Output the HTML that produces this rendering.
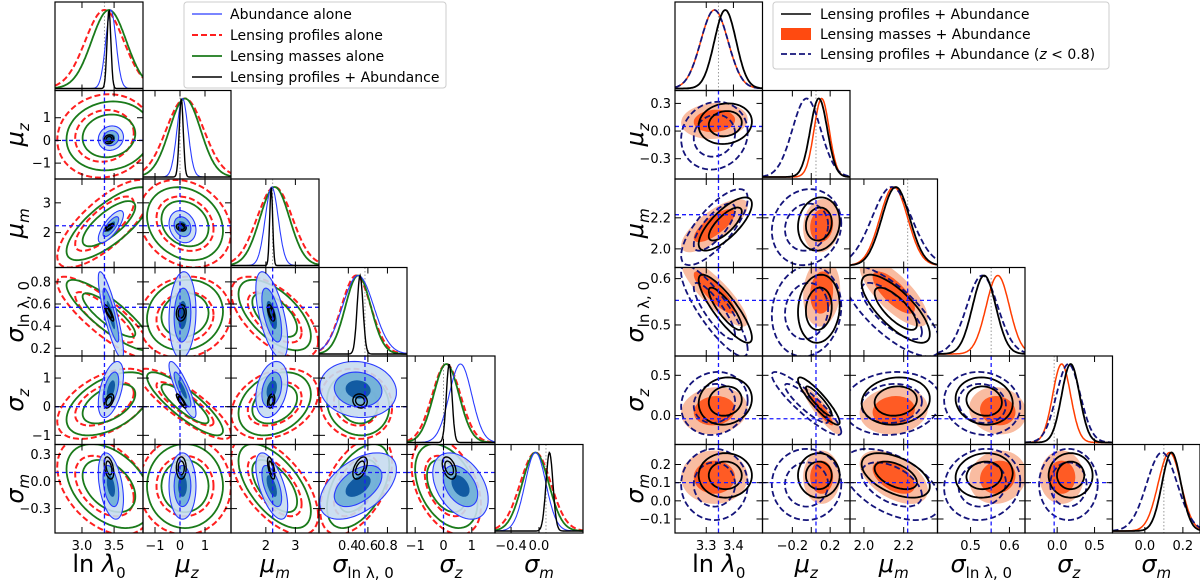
<!DOCTYPE html>
<html><head><meta charset="utf-8">
<style>
html,body{margin:0;padding:0;background:#fff;}
svg{display:block;font-family:"DejaVu Sans","Liberation Sans",sans-serif;}
</style></head>
<body>
<svg id="fig" width="1200" height="581" viewBox="0 0 1200 581" xmlns="http://www.w3.org/2000/svg"></svg>
<script>
// ---------- data ----------
const paramLabels = ["ln λ0","μz","μm","σlnλ,0","σz","σm"];
// Left figure
const L_truth = [3.35, 0.0, 2.23, 0.57, 0.0, 0.1];
const L_abund_mean = [3.45, 0.1, 2.2, 0.5, 0.6, -0.05];
const L_abund_sd   = [0.08, 0.22, 0.22, 0.16, 0.4, 0.15];
const L_prof_mean  = [3.35, 0.2, 2.3, 0.48, 0.1, -0.05];
const L_prof_sd    = [0.3, 0.75, 0.6, 0.15, 0.5, 0.22];
const L_mass_mean  = [3.42, 0.2, 2.3, 0.5, 0.1, -0.05];
const L_mass_sd    = [0.27, 0.62, 0.5, 0.13, 0.45, 0.19];
const L_comb_mean  = [3.42, 0.05, 2.18, 0.52, 0.2, 0.15];
const L_comb_sd    = [0.03, 0.08, 0.05, 0.03, 0.1, 0.05];
const L_corr = {"1-0":0.1,"2-0":0.75,"2-1":-0.2,"3-0":-0.85,"3-1":0.1,"3-2":-0.6,"4-0":0.5,"4-1":-0.85,"4-2":0.3,"4-3":-0.1,"5-0":-0.4,"5-1":0.0,"5-2":-0.6,"5-3":0.5,"5-4":-0.4};
const L_xr = [[2.58,3.95],[-1.48,2.04],[0.82,3.8],[0.10,1.0],[-1.29,1.82],[-0.63,0.63]];
const L_yr = [null,[-1.7,2.2],[0.83,3.8],[0.13,0.93],[-1.32,1.77],[-0.57,0.41]];
const L_xticks = [[3.0,3.5],[-1,0,1],[2,3],[0.4,0.6,0.8],[-1,0,1],[-0.4,0.0]];
const L_xtickLabels = [["3.0","3.5"],["−1","0","1"],["2","3"],["0.4","0.6","0.8"],["−1","0","1"],["−0.4","0.0"]];
const L_yticks = [null,[-1,0,1],[2,3],[0.2,0.4,0.6,0.8],[-1,0,1],[-0.3,0,0.3]];
const L_ytickLabels = [null,["−1","0","1"],["2","3"],["0.2","0.4","0.6","0.8"],["−1","0","1"],["−0.3","0.0","0.3"]];
// Right figure
const R_truth = [3.345, 0.05, 2.22, 0.553, -0.04, 0.1];
const R_comb_mean = [3.37, 0.08, 2.16, 0.535, 0.18, 0.14];
const R_comb_sd   = [0.04, 0.09, 0.07, 0.03, 0.12, 0.05];
const R_mass_mean = [3.33, 0.11, 2.15, 0.57, 0.06, 0.13];
const R_mass_sd   = [0.05, 0.08, 0.07, 0.03, 0.12, 0.06];
const R_z08_mean  = [3.33, -0.05, 2.14, 0.53, 0.15, 0.09];
const R_z08_sd    = [0.05, 0.15, 0.1, 0.04, 0.16, 0.08];
const R_corr = {"1-0":0.1,"2-0":0.75,"2-1":0.1,"3-0":-0.85,"3-1":0.1,"3-2":-0.75,"4-0":0.1,"4-1":-0.9,"4-2":0.1,"4-3":-0.1,"5-0":0.0,"5-1":0.0,"5-2":-0.5,"5-3":0.1,"5-4":0.0};
const R_xr = [[3.185,3.507],[-0.516,0.41],[1.93,2.37],[0.415,0.64],[-0.43,0.74],[-0.17,0.29]];
const R_yr = [null,[-0.52,0.44],[1.88,2.45],[0.433,0.624],[-0.36,0.74],[-0.177,0.31]];
const R_xticks = [[3.3,3.4],[-0.2,0.0,0.2],[2.0,2.2],[0.5,0.6],[0.0,0.5],[0.0,0.2]];
const R_xtickLabels = [["3.3","3.4"],["−0.2","","0.2"],["2.0","2.2"],["0.5","0.6"],["0.0","0.5"],["0.0","0.2"]];
const R_yticks = [null,[-0.3,0,0.3],[2.0,2.2],[0.5,0.6],[0,0.5],[-0.1,0,0.1,0.2]];
const R_ytickLabels = [null,["−0.3","0.0","0.3"],["2.0","2.2"],["0.5","0.6"],["0.0","0.5"],["−0.1","0.0","0.1","0.2"]];

// ---------- drawing ----------
const NS="http://www.w3.org/2000/svg";
const svg=document.getElementById('fig');
let clipId=0;
function el(tag,attrs,parent){const e=document.createElementNS(NS,tag);for(const k in attrs)e.setAttribute(k,attrs[k]);(parent||svg).appendChild(e);return e;}

function ellipsePath(sx,sy,mx,my,sdx,sdy,rho,k){
  const cxx=sdx*sdx, cyy=sdy*sdy, cxy=rho*sdx*sdy;
  const a=Math.sqrt(cxx), b=cxy/a, c=Math.sqrt(Math.max(cyy-b*b,1e-12));
  let d="";
  for(let t=0;t<=64;t++){const th=t/64*2*Math.PI;const u=Math.cos(th)*k,v=Math.sin(th)*k;
    const x=mx+a*u, y=my+b*u+c*v; d+=(t?"L":"M")+sx(x).toFixed(1)+","+sy(y).toFixed(1);}
  return d+"Z";
}

function drawCorner(cfg){
  const {x0,y0,pw,ph,xr,yr,xticks,xtl,yticks,ytl,series,corr,truth,label}=cfg;
  const n=6;
  for(let i=0;i<n;i++){for(let j=0;j<=i;j++){
    const px=x0+j*pw, py=y0+i*ph;
    const g=el('g',{});
    
    
    const cid='c'+(clipId++);
    const cp=el('clipPath',{id:cid},g); el('rect',{x:px,y:py,width:pw,height:ph},cp);
    const inner=el('g',{'clip-path':'url(#'+cid+')'},g);
    const sx=v=>px+(v-xr[j][0])/(xr[j][1]-xr[j][0])*pw;
    if(i===j){
      const tl=el('line',{x1:sx(truth[j]),x2:sx(truth[j]),y1:py,y2:py+ph,stroke:'#999','stroke-width':1,'stroke-dasharray':'1.5,2'},inner);
      
      
      series.forEach(s=>{
        const m=s.mean[j], sd=s.sd[j]; let d="";
        for(let t=0;t<=120;t++){const x=xr[j][0]+t/120*(xr[j][1]-xr[j][0]);const z=(x-m)/sd;
          const y=py+ph-2-(ph-10)*Math.exp(-0.5*z*z);d+=(t?"L":"M")+sx(x).toFixed(1)+","+y.toFixed(1);}
        const p=el('path',{d:d,fill:'none',stroke:s.mline||s.line,'stroke-width':s.lw,'stroke-dasharray':s.dash||'none'},inner);
        
        
      });
    } else {
      const sy=v=>py+ph-(v-yr[i][0])/(yr[i][1]-yr[i][0])*ph;
      const rho=corr[i+'-'+j]||0;
      series.forEach(s=>{
        const mx=s.mean[j],my=s.mean[i],sdx=s.sd[j],sdy=s.sd[i];
        if(s.fills){
          s.fills.forEach(f=>{const p=el('path',{d:ellipsePath(sx,sy,mx,my,sdx,sdy,rho,f[0]),fill:f[1],'fill-opacity':f[2]},inner);
            
            });
        }
        if(s.line){
          [1.52,2.45].forEach(k=>{const p=el('path',{d:ellipsePath(sx,sy,mx,my,sdx,sdy,rho,k),fill:'none',stroke:s.line,'stroke-width':s.lw,'stroke-dasharray':s.dash||'none'},inner);
            
            });
        }
      });
      const v=el('line',{x1:sx(truth[j]),x2:sx(truth[j]),y1:py,y2:py+ph,stroke:'#1a1aff','stroke-width':1.3,'stroke-dasharray':'4,3'},inner);
      
      
      const h=el('line',{x1:px,x2:px+pw,y1:sy(truth[i]),y2:sy(truth[i]),stroke:'#1a1aff','stroke-width':1.3,'stroke-dasharray':'4,3'},inner);
      
      
      yticks[i].forEach((t,k)=>{const yy=sy(t);
        el('line',{x1:px,x2:px+6,y1:yy,y2:yy,stroke:'#000'},g);el('line',{x1:px+pw-6,x2:px+pw,y1:yy,y2:yy,stroke:'#000'},g);
        if(j===0){const tx=el('text',{x:px-4,y:yy+4.5,'text-anchor':'end','font-size':13},g);tx.textContent=ytl[i][k];
          
          }
      });
    }
    xticks[j].forEach((t,k)=>{const xx=sx(t);
      el('line',{x1:xx,x2:xx,y1:py+ph-6,y2:py+ph,stroke:'#000'},g);el('line',{x1:xx,x2:xx,y1:py,y2:py+6,stroke:'#000'},g);
      if(i===n-1&&xtl[j][k]){const tx=el('text',{x:xx,y:py+ph+17,'text-anchor':'middle','font-size':13},g);tx.textContent=xtl[j][k];
        
        }
    });
    el('rect',{x:px,y:py,width:pw,height:ph,fill:'none',stroke:'#000','stroke-width':1.2},g);
  }}
  const lab=[["ln ","λ","0",false],["","μ","z",true],["","μ","m",true],["","σ","ln λ, 0",false],["","σ","z",true],["","σ","m",true]];
  const mk=l=>l[0]+'<tspan font-style="italic">'+l[1]+'</tspan><tspan font-size="15" dy="6"'+(l[3]?' font-style="italic"':'')+'>'+l[2]+'</tspan>';
  for(let j=0;j<n;j++){
    const t=el('text',{x:x0+j*pw+pw/2,y:572,'text-anchor':'middle','font-size':24});
    
    
    t.innerHTML=mk(lab[j]);
  }
  for(let i=1;i<n;i++){
    const cy=y0+i*ph+ph/2;
    const t=el('text',{x:0,y:0,'text-anchor':'middle','font-size':24,transform:'translate('+(x0-32)+','+cy+') rotate(-90)'});
    
    
    t.innerHTML=mk(lab[i]);
  }
}

drawCorner({x0:55,y0:2,pw:88,ph:88.5,xr:L_xr,yr:L_yr,xticks:L_xticks,xtl:L_xtickLabels,yticks:L_yticks,ytl:L_ytickLabels,corr:L_corr,truth:L_truth,label:'left',
  series:[
    {name:'lensing-profiles-alone',mean:L_prof_mean,sd:L_prof_sd,line:'#ff1f1f',lw:2,dash:'6,3'},
    {name:'lensing-masses-alone',mean:L_mass_mean,sd:L_mass_sd,line:'#1a7a1a',lw:1.8},
    {name:'abundance-alone',mean:L_abund_mean,sd:L_abund_sd,line:'#2a3cff',lw:1.1,fills:[[2.45,'#c6dbef',0.9],[1.52,'#6baed6',0.9],[0.8,'#08519c',0.9]]},
    {name:'lensing-profiles-abundance',mean:L_comb_mean,sd:L_comb_sd,line:'#000',lw:1.4}
  ]});
drawCorner({x0:675,y0:2,pw:87.5,ph:88.5,xr:R_xr,yr:R_yr,xticks:R_xticks,xtl:R_xtickLabels,yticks:R_yticks,ytl:R_ytickLabels,corr:R_corr,truth:R_truth,label:'right',
  series:[
    {name:'lensing-masses-abundance',mean:R_mass_mean,sd:R_mass_sd,line:null,mline:'#ff3d00',lw:1.5,fills:[[2.45,'#f7a582',0.75],[1.52,'#ff5016',0.9]]},
    {name:'lensing-profiles-abundance-z08',mean:R_z08_mean,sd:R_z08_sd,line:'#14147a',lw:1.8,dash:'6,3'},
    {name:'lensing-profiles-abundance',mean:R_comb_mean,sd:R_comb_sd,line:'#000',lw:1.8}
  ]});
</script>
<svg style="position:absolute;left:0;top:0" width="1200" height="120">
<g font-family="DejaVu Sans, Liberation Sans, sans-serif" font-size="14">
<rect x="184" y="2" width="262" height="86" rx="3" fill="#fff" fill-opacity="0.85" stroke="#ccc"/>
<line x1="192" x2="222" y1="14" y2="14" stroke="#2a3cff" stroke-width="1.3"/><text x="230" y="19">Abundance alone</text>
<line x1="192" x2="222" y1="35" y2="35" stroke="#ff1f1f" stroke-width="2" stroke-dasharray="6,3"/><text x="230" y="40">Lensing profiles alone</text>
<line x1="192" x2="222" y1="56" y2="56" stroke="#1a7a1a" stroke-width="1.8"/><text x="230" y="61">Lensing masses alone</text>
<line x1="192" x2="222" y1="77" y2="77" stroke="#000" stroke-width="1.4"/><text x="230" y="82">Lensing profiles + Abundance</text>
</g>
<g font-family="DejaVu Sans, Liberation Sans, sans-serif" font-size="14">
<rect x="773" y="2" width="336" height="67" rx="3" fill="#fff" fill-opacity="0.85" stroke="#ccc"/>
<line x1="781" x2="811" y1="14" y2="14" stroke="#000" stroke-width="1.6"/><text x="820" y="19">Lensing profiles + Abundance</text>
<rect x="781" y="28" width="30" height="12" fill="#ff4a10"/><text x="820" y="39">Lensing masses + Abundance</text>
<line x1="781" x2="811" y1="54" y2="54" stroke="#14147a" stroke-width="1.8" stroke-dasharray="6,3"/><text x="820" y="59">Lensing profiles + Abundance (<tspan font-style="italic">z</tspan> &lt; 0.8)</text>
</g>
</svg>
</body></html>
